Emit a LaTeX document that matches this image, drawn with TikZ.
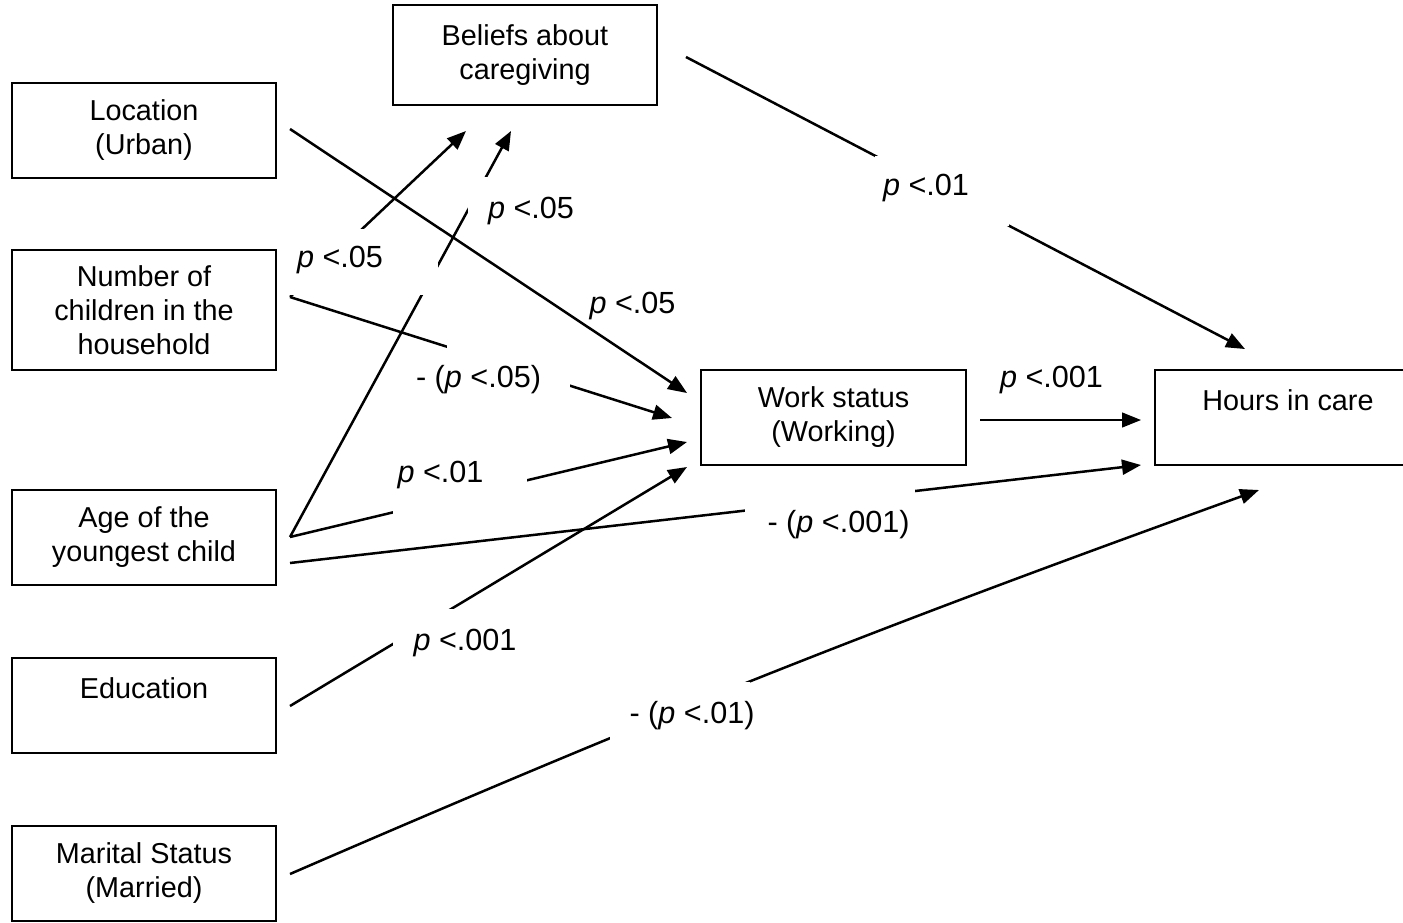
\documentclass[tikz,border=0pt]{standalone}
\usepackage{fontspec}
\setmainfont{Liberation Sans}
\usetikzlibrary{arrows.meta}
\begin{document}
\begin{tikzpicture}[x=0.5pt,y=-0.5pt,
  box/.style={draw, line width=0.8pt, inner sep=0pt, align=center,
    font=\fontsize{14.4}{17}\selectfont, minimum width=132pt, minimum height=47.5pt},
  arr/.style={line width=1.25pt, -{Triangle[length=9.5pt,width=7.5pt]}},
  thinarr/.style={line width=0.65pt, -{Triangle[length=9.5pt,width=7.5pt]}},
  lab/.style={font=\fontsize{15.3}{18}\selectfont, inner sep=0pt, anchor=base},
  mask/.style={fill=white}]
\useasboundingbox (0,0) rectangle (1403,922);
% boxes
\node[box] (loc) at (144,130.5) {Location\\(Urban)};
\node[box, minimum height=50pt] (bel) at (525,55) {Beliefs about\\caregiving};
\node[box, minimum height=60pt] (num) at (144,310) {Number of\\children in the\\household};
\node[box] (age) at (144,537.5) {Age of the\\youngest child};
\node[box] (edu) at (144,705.5) {Education\\\mbox{}};
\node[box] (mar) at (144,873.5) {Marital Status\\(Married)};
\node[box, minimum width=132.5pt] (work) at (833.5,417.5) {Work status\\(Working)};
\node[box, minimum width=133pt] (hours) at (1288,417.5) {Hours in care\\\mbox{}};
% connector ends
\coordinate (locO) at (290,129);
\coordinate (numO) at (290,297);
\coordinate (ageO) at (290,537);
\coordinate (ageH) at (290,563);
\coordinate (eduO) at (290,706);
\coordinate (marO) at (290,874);
\coordinate (belO) at (686,57);
\coordinate (workO) at (980,420);
\coordinate (wIn1) at (687,393);
\coordinate (wIn2) at (672,418);
\coordinate (wIn3) at (687,442);
\coordinate (wIn4) at (687,467);
\coordinate (bIn1) at (466,131);
\coordinate (bIn2) at (511,131);
\coordinate (hIn1) at (1245,349);
\coordinate (hIn2) at (1141,420);
\coordinate (hIn3) at (1141,465);
\coordinate (hIn4) at (1259,490);
% connectors
\draw[arr] (locO) -- (wIn1);
\draw[arr] (numO) -- (wIn2);
\draw[arr] (numO) -- (bIn1);
\draw[arr] (ageO) -- (bIn2);
\draw[arr] (ageO) -- (wIn3);
\draw[arr] (ageH) -- (hIn3);
\draw[arr] (eduO) -- (wIn4);
\draw[arr] (marO) to[bend left=1.8] (hIn4);
\draw[arr] (belO) -- (hIn1);
\draw[thinarr] (workO) -- (hIn2);
% white label backgrounds
\fill[mask] (288,229) rectangle (438,295);
\fill[mask] (468,177) rectangle (580,238);
\fill[mask] (447,335) rectangle (570,400);
\fill[mask] (393,450) rectangle (527,520);
\fill[mask] (745,486) rectangle (915,545);
\fill[mask] (393,609) rectangle (525,662);
\fill[mask] (610,682) rectangle (750,748);
\fill[mask] (875,156) rectangle (1009,226);
% labels
\node[lab] (lA) at (340,267) {\textit{p} <.05};
\node[lab] (lB) at (531,218) {\textit{p} <.05};
\node[lab] (lC) at (632.5,313) {\textit{p} <.05};
\node[lab] (lD) at (478.5,387) {- (\textit{p} <.05)};
\node[lab] (lE) at (440.5,482) {\textit{p} <.01};
\node[lab] (lF) at (838.5,532) {- (\textit{p} <.001)};
\node[lab] (lG) at (465,650) {\textit{p} <.001};
\node[lab] (lH) at (692,723) {- (\textit{p} <.01)};
\node[lab] (lI) at (926,195) {\textit{p} <.01};
\node[lab] (lJ) at (1051.5,387) {\textit{p} <.001};
\end{tikzpicture}
\end{document}
